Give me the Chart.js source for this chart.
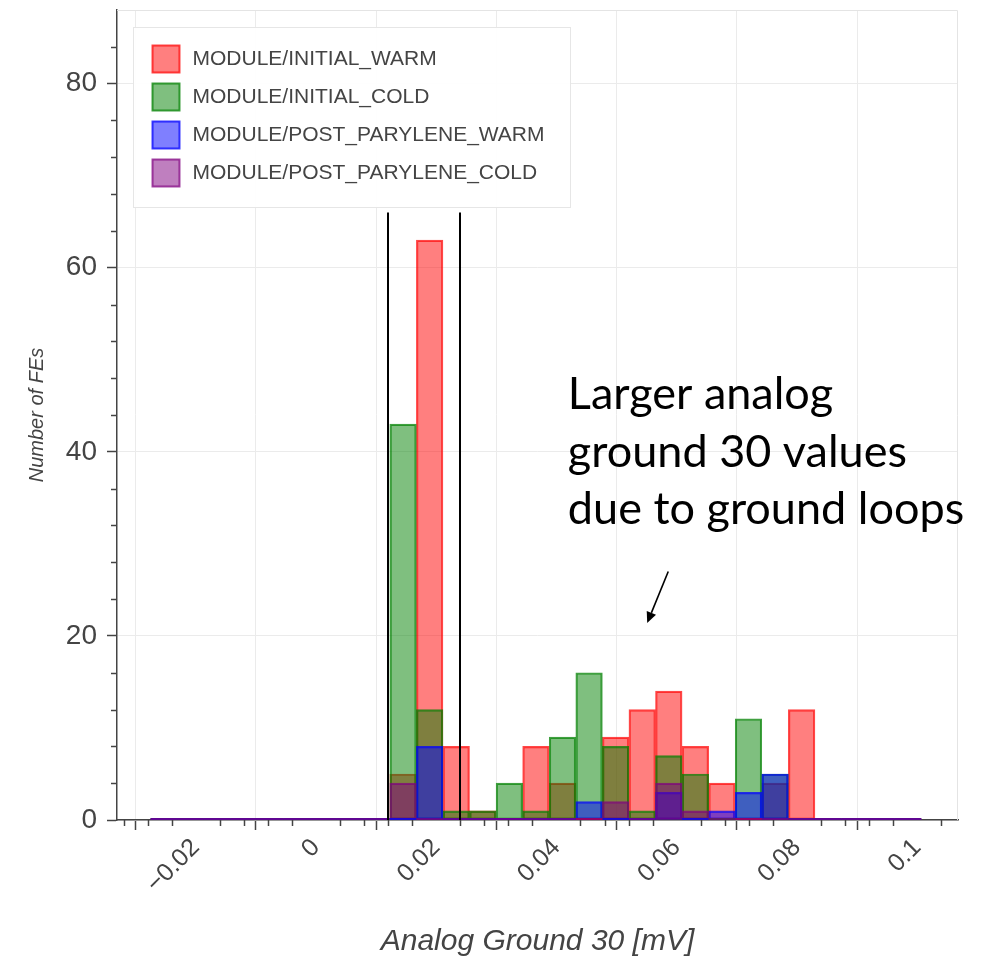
<!DOCTYPE html>
<html>
<head>
<meta charset="utf-8">
<script src="https://cdn.jsdelivr.net/npm/chart.js@4.4.1/dist/chart.umd.min.js"></script>
<style>
  html, body { margin: 0; padding: 0; background: #ffffff; }
  #wrap { position: relative; width: 982px; height: 957px; }
  canvas { display: block; }
</style>
</head>
<body>
<div id="wrap"><canvas id="c" width="982" height="957"></canvas></div>
<script>
// ---- data ----
const binCenters = [
  -0.02529, -0.02087, -0.01645, -0.01203, -0.00761, -0.00319, 0.00123, 0.00565, 0.01007,
  0.01449, 0.01891, 0.02333, 0.02775, 0.03217, 0.03659, 0.04101, 0.04543, 0.04985,
  0.05427, 0.05869, 0.06311, 0.06753, 0.07195, 0.07637, 0.08079, 0.08521, 0.08963,
  0.09405, 0.09847
];
const initialWarm = [0,0,0,0,0,0,0,0,0, 5,63,8,1,0,8,4,0,9,12,14,8,4,0,4,12, 0,0,0,0];
const initialCold = [0,0,0,0,0,0,0,0,0, 43,12,1,1,4,1,9,16,8,1,7,5,0,11,5,0, 0,0,0,0];
const postWarm    = [0,0,0,0,0,0,0,0,0, 0,8,0,0,0,0,0,2,0,0,3,0,1,3,5,0, 0,0,0,0];
const postCold    = [0,0,0,0,0,0,0,0,0, 4,0,0,0,0,0,0,0,2,0,4,1,0,0,0,0, 0,0,0,0];
const seriesLabels = [
  'MODULE/INITIAL_WARM', 'MODULE/INITIAL_COLD',
  'MODULE/POST_PARYLENE_WARM', 'MODULE/POST_PARYLENE_COLD'
];
const xMajorTicks = [-0.02, 0, 0.02, 0.04, 0.06, 0.08, 0.1];
const xMajorLabels = ['\u22120.02', '0', '0.02', '0.04', '0.06', '0.08', '0.1'];
const xMinorTicks = [-0.032,-0.028,-0.024,-0.016,-0.012,-0.008,-0.004,0.004,0.008,0.012,0.016,
  0.024,0.028,0.032,0.036,0.044,0.048,0.052,0.056,0.064,0.068,0.072,0.076,0.084,0.088,0.092,0.096,0.104];
const yMajorTicks = [0, 20, 40, 60, 80];
const yMinorTicks = [4,8,12,16,24,28,32,36,44,48,52,56,64,68,72,76,84];
const cutLines = [0.012, 0.024];
const cutLineTop = 66;
const annotationLines = ['Larger analog', 'ground 30 values', 'due to ground loops'];
const annotationAnchor = [0.0419, 44.6];
const arrowFrom = [0.0586, 27.0];
const arrowTo = [0.0551, 21.4];

const colors = [
  { fill: 'rgba(255,0,0,0.5)', line: 'rgba(255,0,0,0.72)' },
  { fill: 'rgba(0,128,0,0.5)', line: 'rgba(0,128,0,0.75)' },
  { fill: 'rgba(0,0,255,0.5)', line: 'rgba(0,0,255,0.75)' },
  { fill: 'rgba(128,0,128,0.5)', line: 'rgba(128,0,128,0.72)' }
];
const seriesValues = [initialWarm, initialCold, postWarm, postCold];

const TEXT = '#444444';
Chart.defaults.font.family = "'Liberation Sans', Arial, sans-serif";
Chart.defaults.color = TEXT;

const datasets = seriesValues.map((vals, k) => ({
  label: seriesLabels[k],
  data: binCenters.map((x, i) => ({ x: x, y: vals[i] })),
  backgroundColor: colors[k].fill,
  borderColor: colors[k].line,
  borderWidth: 1.5,
  borderSkipped: false,
  barPercentage: 1,
  categoryPercentage: 1,
  grouped: false,
  order: 4 - k
}));

const extras = {
  id: 'extras',
  beforeDatasetsDraw(chart) {
    const { ctx, chartArea: a } = chart;
    ctx.save();
    ctx.strokeStyle = '#e4e4e4';
    ctx.lineWidth = 1;
    ctx.beginPath();
    ctx.moveTo(a.left, a.top + 0.5);
    ctx.lineTo(a.right - 0.5, a.top + 0.5);
    ctx.lineTo(a.right - 0.5, a.bottom);
    ctx.stroke();
    ctx.restore();
  },
  afterDatasetsDraw(chart) {
    const { ctx } = chart;
    const xs = chart.scales.x, ys = chart.scales.y;
    ctx.save();
    // zero-height bins drawn as a thin base line (as in the reference)
    for (let k = 0; k < seriesValues.length; k++) {
      const meta = chart.getDatasetMeta(k);
      ctx.strokeStyle = colors[k].line;
      ctx.lineWidth = 2;
      meta.data.forEach((el, i) => {
        if (seriesValues[k][i] === 0) {
          ctx.beginPath();
          ctx.moveTo(el.x - el.width / 2, el.base - 1);
          ctx.lineTo(el.x + el.width / 2, el.base - 1);
          ctx.stroke();
        }
      });
    }
    // vertical cut lines
    ctx.strokeStyle = '#000';
    ctx.lineWidth = 2;
    cutLines.forEach(v => {
      const px = Math.round(xs.getPixelForValue(v));
      ctx.beginPath();
      ctx.moveTo(px, ys.getPixelForValue(0));
      ctx.lineTo(px, ys.getPixelForValue(cutLineTop));
      ctx.stroke();
    });
    ctx.restore();
  },
  afterDraw(chart) {
    const { ctx, chartArea: a } = chart;
    const xs = chart.scales.x, ys = chart.scales.y;
    ctx.save();
    // minor ticks
    ctx.strokeStyle = TEXT;
    ctx.lineWidth = 1.5;
    xMinorTicks.forEach(v => {
      const px = Math.round(xs.getPixelForValue(v)) + 0.5;
      ctx.beginPath();
      ctx.moveTo(px, a.bottom);
      ctx.lineTo(px, a.bottom + 6);
      ctx.stroke();
    });
    yMinorTicks.forEach(v => {
      const py = Math.round(ys.getPixelForValue(v)) + 0.5;
      ctx.beginPath();
      ctx.moveTo(a.left, py);
      ctx.lineTo(a.left - 6, py);
      ctx.stroke();
    });

    // legend box (inside plot, top-left)
    const lx = a.left + 16.5, ly = a.top + 17.5, lw = 437, lh = 180;
    ctx.fillStyle = 'rgba(255,255,255,0.95)';
    ctx.fillRect(lx, ly, lw, lh);
    ctx.strokeStyle = '#e6e6e6';
    ctx.lineWidth = 1;
    ctx.strokeRect(lx, ly, lw, lh);
    ctx.font = "21px 'Liberation Sans', Arial, sans-serif";
    ctx.textBaseline = 'middle';
    ctx.textAlign = 'left';
    seriesLabels.forEach((lab, k) => {
      const sy = ly + 18 + k * 38;
      ctx.fillStyle = colors[k].fill;
      ctx.fillRect(lx + 19, sy, 27, 27);
      ctx.strokeStyle = colors[k].line;
      ctx.lineWidth = 2;
      ctx.strokeRect(lx + 19, sy, 27, 27);
      ctx.fillStyle = TEXT;
      ctx.fillText(lab, lx + 59, sy + 14);
    });

    // annotation text
    ctx.fillStyle = '#000';
    ctx.font = "45px Lato, 'Open Sans', sans-serif";
    ctx.textBaseline = 'alphabetic';
    const tx = xs.getPixelForValue(annotationAnchor[0]);
    const ty = ys.getPixelForValue(annotationAnchor[1]);
    annotationLines.forEach((t, i) => ctx.fillText(t, tx, ty + i * 57.5));

    // arrow
    const x1 = xs.getPixelForValue(arrowFrom[0]), y1 = ys.getPixelForValue(arrowFrom[1]);
    const x2 = xs.getPixelForValue(arrowTo[0]), y2 = ys.getPixelForValue(arrowTo[1]);
    const ang = Math.atan2(y2 - y1, x2 - x1);
    const hl = 11, hw = 5;
    const bx = x2 - hl * Math.cos(ang), by = y2 - hl * Math.sin(ang);
    ctx.strokeStyle = '#000';
    ctx.lineWidth = 1.6;
    ctx.beginPath();
    ctx.moveTo(x1, y1);
    ctx.lineTo(bx, by);
    ctx.stroke();
    ctx.fillStyle = '#000';
    ctx.beginPath();
    ctx.moveTo(x2, y2);
    ctx.lineTo(bx + hw * Math.sin(ang), by - hw * Math.cos(ang));
    ctx.lineTo(bx - hw * Math.sin(ang), by + hw * Math.cos(ang));
    ctx.closePath();
    ctx.fill();
    ctx.restore();
  }
};

new Chart(document.getElementById('c'), {
  type: 'bar',
  data: { datasets: datasets },
  plugins: [extras],
  options: {
    responsive: false,
    animation: false,
    devicePixelRatio: 1,
    layout: { padding: { left: 0, right: 24, top: 10, bottom: 0 } },
    plugins: { legend: { display: false }, tooltip: { enabled: false } },
    scales: {
      x: {
        type: 'linear',
        min: -0.0331,
        max: 0.1068,
        offset: false,
        afterBuildTicks: s => { s.ticks = xMajorTicks.map(v => ({ value: v })); },
        afterFit: s => { s.height = 137; s.paddingLeft = 0; s.paddingRight = 0; },
        ticks: {
          autoSkip: false,
          minRotation: 45,
          maxRotation: 45,
          padding: 3,
          color: TEXT,
          font: { size: 25 },
          callback: (v, i) => xMajorLabels[i]
        },
        grid: { color: '#ebebeb', lineWidth: 1, tickColor: TEXT, tickLength: 10, tickWidth: 1.5 },
        border: { color: TEXT, width: 1.5 },
        title: {
          display: true,
          text: 'Analog Ground 30 [mV]',
          color: TEXT,
          font: { size: 30, style: 'italic', lineHeight: 1 },
          padding: { top: 0, bottom: 0 }
        }
      },
      y: {
        min: 0,
        max: 88,
        afterBuildTicks: s => { s.ticks = yMajorTicks.map(v => ({ value: v })); },
        afterFit: s => { s.width = 117; s.paddingTop = 0; s.paddingBottom = 0; },
        ticks: { color: TEXT, font: { size: 28 }, padding: 10 },
        grid: { color: '#ebebeb', lineWidth: 1, tickColor: TEXT, tickLength: 10, tickWidth: 1.5 },
        border: { color: TEXT, width: 1.5 },
        title: {
          display: true,
          text: 'Number of FEs',
          color: TEXT,
          font: { size: 20, style: 'italic' },
          padding: { top: 25, bottom: 0 }
        }
      }
    }
  }
});
</script>
</body>
</html>
